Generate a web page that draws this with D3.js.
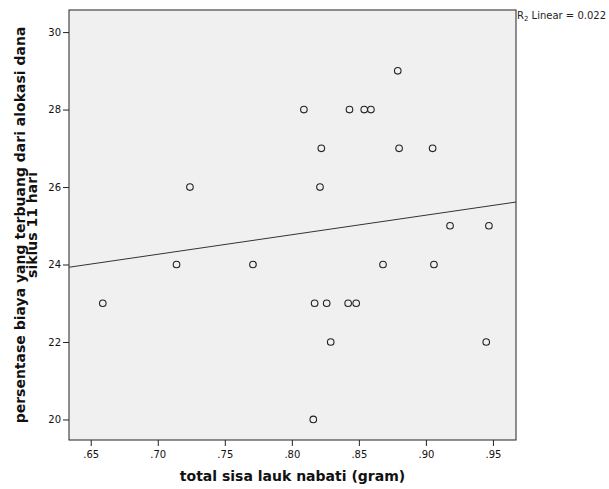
<!DOCTYPE html>
<html>
<head>
<meta charset="utf-8">
<script src="https://cdn.jsdelivr.net/npm/d3@7"></script>
<style>
  body { margin: 0; background: #fff; }
  svg { display: block; }
</style>
</head>
<body>
<svg id="chart" width="609" height="489"></svg>
<script>
// values
const sisaLauk = [0.659, 0.714, 0.724, 0.771, 0.809, 0.816, 0.817, 0.821, 0.822, 0.826, 0.829, 0.842,
    0.843, 0.848, 0.854, 0.859, 0.868, 0.879, 0.880, 0.905, 0.906, 0.918, 0.945, 0.947];
const persenBiaya = [23, 24, 26, 24, 28, 20, 23, 26, 27, 23, 22, 23,
    28, 23, 28, 28, 24, 29, 27, 27, 24, 25, 22, 25];
const xTicks = [0.65, 0.70, 0.75, 0.80, 0.85, 0.90, 0.95];
const yTicks = [20, 22, 24, 26, 28, 30];
const xDomain = [0.6338, 0.9672];
const yDomain = [19.47, 30.57];
const rSquare = '0.022';

const margin = {left: 69, top: 10, right: 93, bottom: 49};
const width = 609, height = 489;
const fontFamily = '"Lucida Grande", "DejaVu Sans", sans-serif';

const svg = d3.select('#chart');

const x = d3.scaleLinear().domain(xDomain).range([margin.left, width - margin.right]);
const y = d3.scaleLinear().domain(yDomain).range([height - margin.bottom, margin.top]);

// plot area
svg.append('rect')
    .attr('x', x.range()[0])
    .attr('y', y.range()[1])
    .attr('width', x.range()[1] - x.range()[0])
    .attr('height', y.range()[0] - y.range()[1])
    .style('fill', '#f0f0f0')
    .style('stroke', '#222')
    .style('stroke-width', 1);

// axes
const fmtX = d => d3.format('.2f')(d).replace(/^0/, '');

svg.append('g')
    .attr('transform', 'translate(0,' + y.range()[0] + ')')
    .call(d3.axisBottom(x).tickValues(xTicks).tickFormat(fmtX).tickSize(6).tickSizeOuter(0))
    .call(g => g.select('.domain').remove())
    .call(g => g.selectAll('line').style('stroke', '#222'))
    .call(g => g.selectAll('text').attr('dy', '0.9em')
        .style('font-family', fontFamily).style('font-size', '10px').style('fill', '#111'));

svg.append('g')
    .attr('transform', 'translate(' + x.range()[0] + ',0)')
    .call(d3.axisLeft(y).tickValues(yTicks).tickFormat(d3.format('d')).tickSize(6).tickSizeOuter(0))
    .call(g => g.select('.domain').remove())
    .call(g => g.selectAll('line').style('stroke', '#222'))
    .call(g => g.selectAll('text').attr('x', -8)
        .style('font-family', fontFamily).style('font-size', '10px').style('fill', '#111'));

// linear fit
const mx = d3.mean(sisaLauk), my = d3.mean(persenBiaya);
const sxy = d3.sum(sisaLauk, (v, i) => (v - mx) * (persenBiaya[i] - my));
const sxx = d3.sum(sisaLauk, v => (v - mx) * (v - mx));
const slope = sxy / sxx;
const intercept = my - slope * mx;

svg.append('line')
    .attr('x1', x(xDomain[0]))
    .attr('y1', y(intercept + slope * xDomain[0]))
    .attr('x2', x(xDomain[1]))
    .attr('y2', y(intercept + slope * xDomain[1]))
    .style('stroke', '#333')
    .style('stroke-width', 1);

// points
svg.append('g')
    .selectAll('circle')
    .data(sisaLauk)
    .join('circle')
    .attr('cx', d => x(d))
    .attr('cy', (d, i) => y(persenBiaya[i]))
    .attr('r', 3.3)
    .style('fill', 'none')
    .style('stroke', '#222')
    .style('stroke-width', 1.1);

// fit label
const rLabel = svg.append('text')
    .attr('x', x.range()[1] + 1)
    .attr('y', margin.top + 9)
    .style('font-family', fontFamily)
    .style('font-size', '10px')
    .style('fill', '#222');
rLabel.append('tspan').text('R');
rLabel.append('tspan').attr('dy', 2).style('font-size', '7px').text('2');
rLabel.append('tspan').attr('dy', -2).text(' Linear = ' + rSquare);

// axis titles
svg.append('text')
    .text('total sisa lauk nabati (gram)')
    .attr('x', (x.range()[0] + x.range()[1]) / 2)
    .attr('y', 481)
    .attr('text-anchor', 'middle')
    .style('font-family', fontFamily)
    .style('font-weight', 'bold')
    .style('font-size', '14px')
    .style('fill', '#111');

const yMid = (y.range()[0] + y.range()[1]) / 2;
const yTitle = svg.append('text')
    .attr('transform', 'translate(0,' + yMid + ') rotate(-90)')
    .attr('text-anchor', 'middle')
    .style('font-family', fontFamily)
    .style('font-weight', 'bold')
    .style('font-size', '14px')
    .style('fill', '#111');
yTitle.append('tspan').attr('x', 0).attr('y', 25).text('persentase biaya yang terbuang dari alokasi dana');
yTitle.append('tspan').attr('x', 0).attr('y', 37).text('siklus 11 hari');
</script>
</body>
</html>
